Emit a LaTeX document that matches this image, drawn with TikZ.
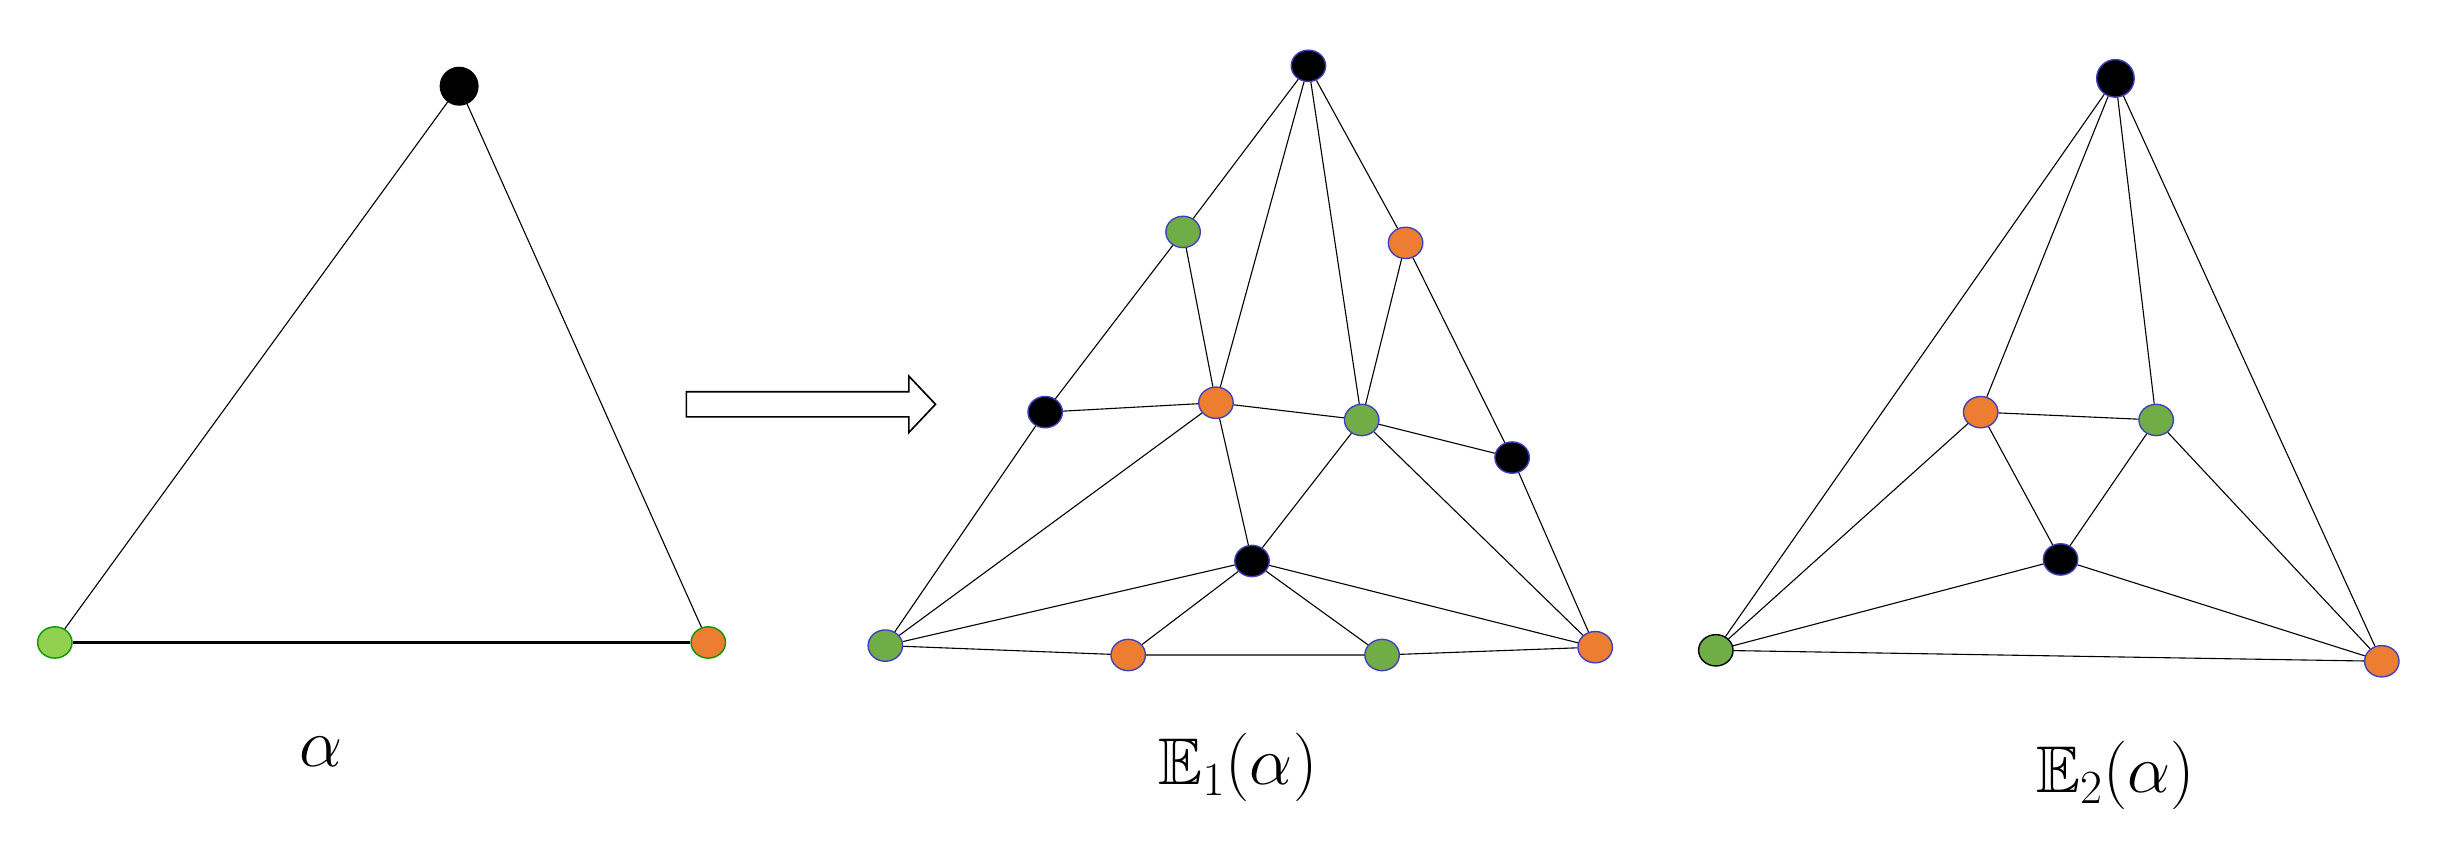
\documentclass[tikz,border=0pt]{standalone}
\usepackage{amssymb}
\usetikzlibrary{shapes.geometric}
\begin{document}
\begin{tikzpicture}[x=0.02cm,y=-0.02cm,
  v/.style={ellipse,draw=blue!50!gray,line width=0.5pt,minimum width=22*0.02cm,minimum height=20*0.02cm,inner sep=0pt},
  bk/.style={v,fill=black},
  og/.style={v,fill={rgb,255:red,237;green,125;blue,49}},
  gn/.style={v,fill={rgb,255:red,112;green,173;blue,71}},
  e/.style={draw,line width=0.4pt},
  lab/.style={font=\fontsize{24}{28}\selectfont}]
\useasboundingbox (0,0) rectangle (1568,539);
% left
\node[bk,draw=black,minimum width=24*0.02cm,minimum height=24*0.02cm] (a1) at (293,55) {};
\node[v,draw=green!60!black,fill={rgb,255:red,146;green,208;blue,80}] (a2) at (35,410) {};
\node[og,draw=green!60!black] (a3) at (452,410) {};
\draw[e] (a1)--(a2) (a1)--(a3);
\draw[line width=1pt] (a2)--(a3);
\node[lab] (la) at (205,480) {$\alpha$};
% arrow
\draw[line width=0.6pt,fill=white] (438,250)--(580,250)--(580,240)--(597,258)--(580,276)--(580,266)--(438,266)--cycle;
% E1
\node[bk] (t) at (835,42) {};
\node[gn] (g1) at (755,148) {};
\node[og] (o1) at (897,155) {};
\node[bk] (b1) at (667,263) {};
\node[og] (o2) at (776,257) {};
\node[gn] (g2) at (869,268) {};
\node[bk] (b2) at (965,292) {};
\node[bk] (b3) at (799,358) {};
\node[gn] (g3) at (565,412) {};
\node[og] (o3) at (720,418) {};
\node[gn] (g4) at (882,418) {};
\node[og] (o4) at (1018,413) {};
\draw[e] (t)--(g1) (t)--(o2) (t)--(g2) (t)--(o1) (g1)--(b1) (g1)--(o2)
 (o1)--(g2) (o1)--(b2) (b1)--(o2) (o2)--(g2) (g2)--(b2) (b1)--(g3)
 (o2)--(g3) (o2)--(b3) (g2)--(b3) (g2)--(o4) (b2)--(o4)
 (b3)--(g3) (b3)--(o3) (b3)--(g4) (b3)--(o4)
 (g3)--(o3) (o3)--(g4) (g4)--(o4);
\node[lab] (l1) at (790,490) {$\mathbb{E}_1(\alpha)$};
% E2
\node[bk,minimum width=24*0.02cm,minimum height=24*0.02cm] (T) at (1350,50) {};
\node[og] (O1) at (1264,263) {};
\node[gn] (G1) at (1376,268) {};
\node[bk] (B1) at (1315,357) {};
\node[gn,draw=black] (G2) at (1095,415) {};
\node[og] (O2) at (1520,422) {};
\draw[e] (T)--(G2) (T)--(O1) (T)--(G1) (T)--(O2) (O1)--(G1) (O1)--(B1)
 (G1)--(B1) (O1)--(G2) (G1)--(O2) (B1)--(G2) (B1)--(O2) (G2)--(O2);
\node[lab] (l2) at (1350,495) {$\mathbb{E}_2(\alpha)$};
\end{tikzpicture}
\end{document}
